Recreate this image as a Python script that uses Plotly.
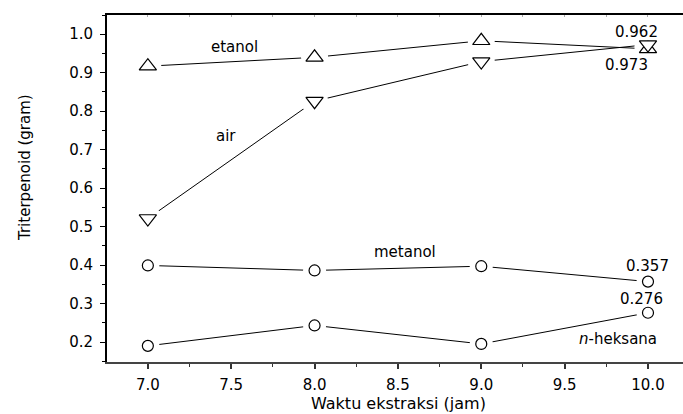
import plotly.graph_objects as go

waktu = [7.0, 8.0, 9.0, 10.0]
etanol = [0.917, 0.940, 0.983, 0.962]
air = [0.521, 0.826, 0.929, 0.973]
metanol = [0.399, 0.386, 0.397, 0.357]
heksana = [0.190, 0.243, 0.195, 0.276]

series = [
    (etanol, "triangle-up", 15),
    (air, "triangle-down", 15),
    (metanol, "circle", 11),
    (heksana, "circle", 11),
]

FONT = "DejaVu Sans, Arial, sans-serif"
fig = go.Figure()
for vals, sym, sz in series:
    fig.add_trace(go.Scatter(x=waktu, y=vals, mode="lines",
                             line=dict(color="black", width=1), showlegend=False, hoverinfo="skip"))
for vals, sym, sz in series:
    fig.add_trace(go.Scatter(x=waktu, y=vals, mode="markers",
                             marker=dict(symbol="circle", size=sz + 12, color="white",
                                         line=dict(color="white", width=0)),
                             showlegend=False, hoverinfo="skip"))
for vals, sym, sz in series:
    fig.add_trace(go.Scatter(x=waktu, y=vals, mode="markers",
                             marker=dict(symbol=sym, size=sz, color="white",
                                         line=dict(color="black", width=1.2)),
                             showlegend=False))

labels = [
    ("etanol", 7.52, 0.967),
    ("air", 7.47, 0.735),
    ("metanol", 8.54, 0.433),
    ("0.962", 9.93, 1.006),
    ("0.973", 9.87, 0.920),
    ("0.357", 10.0, 0.397),
    ("0.276", 9.96, 0.313),
    ("<i>n</i>-heksana", 9.82, 0.207),
]
for txt, x, y in labels:
    fig.add_annotation(x=x, y=y, text=txt, showarrow=False,
                       font=dict(family=FONT, size=15, color="black"))

fig.add_annotation(xref="paper", yref="paper", x=(398 - 107) / 576, y=-(403 - 362) / 347,
                   xanchor="center", yanchor="middle",
                   text="Waktu ekstraksi (jam)", showarrow=False,
                   font=dict(family=FONT, size=16, color="black"))
fig.add_annotation(xref="paper", yref="paper", x=-(107 - 25) / 576, y=(362 - 168) / 347,
                   xanchor="center", yanchor="middle",
                   text="Triterpenoid (gram)", showarrow=False, textangle=-90,
                   font=dict(family=FONT, size=15, color="black"))

fig.update_layout(
    width=683, height=414,
    margin=dict(l=107, r=0, t=15, b=52, autoexpand=False),
    paper_bgcolor="white", plot_bgcolor="white",
    font=dict(family=FONT, size=15, color="black"),
    xaxis=dict(range=[6.755, 10.21], tickvals=[7.0, 7.5, 8.0, 8.5, 9.0, 9.5, 10.0],
               ticktext=["7.0", "7.5", "8.0", "8.5", "9.0", "9.5", "10.0"],
               ticks="outside", ticklen=5, tickwidth=1.5, tickcolor="#333",
               showline=True, linecolor="#444", linewidth=2, showgrid=False, zeroline=False,
               automargin=False, ticklabelstandoff=3,
               minor=dict(ticks="outside", ticklen=3, tickwidth=1, tickcolor="#333", dtick=0.25, tick0=7.0),
               tickfont=dict(size=15)),
    yaxis=dict(range=[0.148, 1.05], tickvals=[0.2, 0.3, 0.4, 0.5, 0.6, 0.7, 0.8, 0.9, 1.0],
               ticktext=["0.2", "0.3", "0.4", "0.5", "0.6", "0.7", "0.8", "0.9", "1.0"],
               ticks="outside", ticklen=5, tickwidth=1.2, tickcolor="black",
               showline=True, linecolor="black", linewidth=2, showgrid=False, zeroline=False,
               automargin=False, ticklabelstandoff=4,
               minor=dict(ticks="outside", ticklen=3, tickwidth=1, tickcolor="black", dtick=0.05, tick0=0.2),
               tickfont=dict(size=15)),
    xaxis2=dict(overlaying="x", side="top", matches="x", range=[6.755, 10.21],
                showline=True, linecolor="black", linewidth=1.5, showticklabels=False,
                automargin=False,
                ticks="inside", ticklen=2, tickcolor="#aaa", dtick=0.25, tick0=7.0, showgrid=False),
)
fig.add_trace(go.Scatter(x=[7.0], y=[None], xaxis="x2", showlegend=False, hoverinfo="skip"))
fig.write_html("out.html", config={"displayModeBar": False},
               post_script="document.body.style.margin='0';document.body.style.padding='0';")
